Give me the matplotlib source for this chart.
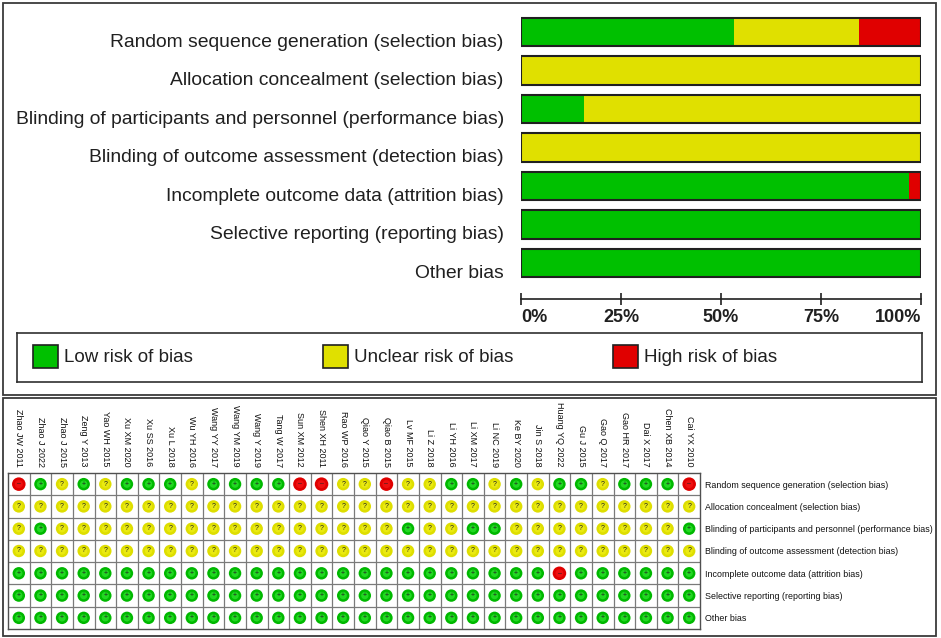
import matplotlib.pyplot as plt
from matplotlib.patches import Rectangle
from matplotlib.transforms import blended_transform_factory

W, H = 941, 638

domains = [
    'Random sequence generation (selection bias)',
    'Allocation concealment (selection bias)',
    'Blinding of participants and personnel (performance bias)',
    'Blinding of outcome assessment (detection bias)',
    'Incomplete outcome data (attrition bias)',
    'Selective reporting (reporting bias)',
    'Other bias',
]

studies = [
    'Zhao JW 2011', 'Zhao J 2022', 'Zhao J 2015', 'Zeng Y 2013', 'Yao WH 2015',
    'Xu XM 2020', 'Xu SS 2016', 'Xu L 2018', 'Wu YH 2016', 'Wang YY 2017',
    'Wang YM 2019', 'Wang Y 2019', 'Tang W 2017', 'Sun XM 2012', 'Shen XH 2011',
    'Rao WP 2016', 'Qiao Y 2015', 'Qiao B 2015', 'Lv MF 2015', 'Li Z 2018',
    'Li YH 2016', 'Li XM 2017', 'Li NC 2019', 'Ke BY 2020', 'Jin S 2018',
    'Huang YQ 2022', 'Gu J 2015', 'Gao Q 2017', 'Gao HR 2017', 'Dai X 2017',
    'Chen XB 2014', 'Cai YX 2010',
]

# L = low, U = unclear, H = high  (one string per domain, one letter per study)
judgements = [
    'HLULULLLULLLLHHUUHUULLULULLULLLH',
    'UUUUUUUUUUUUUUUUUUUUUUUUUUUUUUUU',
    'ULUUUUUUUUUUUUUUUULUULLUUUUUUUUL',
    'UUUUUUUUUUUUUUUUUUUUUUUUUUUUUUUU',
    'LLLLLLLLLLLLLLLLLLLLLLLLLHLLLLLL',
    'LLLLLLLLLLLLLLLLLLLLLLLLLLLLLLLL',
    'LLLLLLLLLLLLLLLLLLLLLLLLLLLLLLLL',
]

levels = ['L', 'U', 'H']
level_names = ['Low risk of bias', 'Unclear risk of bias', 'High risk of bias']
bar_colors = {'L': '#00c000', 'U': '#e0e000', 'H': '#e00000'}
dot_colors = {'L': '#00b800', 'U': '#dede00', 'H': '#e00000'}
inner_colors = {'L': '#22d822', 'U': '#eaea10', 'H': '#ee1010'}
symbols = {'L': '+', 'U': '?', 'H': '–'}

plt.rcParams['font.family'] = ['Liberation Sans', 'DejaVu Sans']


def rect(x0, y0, x1, y1):
    # pixel box -> figure fraction [left, bottom, width, height]
    return [x0 / W, 1 - y1 / H, (x1 - x0) / W, (y1 - y0) / H]


fig = plt.figure(figsize=(W / 100, H / 100), dpi=100)
fig.patch.set_facecolor('white')

# outer frames
for box in [(3, 3, 936, 395), (3, 398, 936, 636)]:
    l, b, w, h = rect(*box)
    fig.add_artist(Rectangle((l, b), w, h, transform=fig.transFigure,
                             fill=False, edgecolor='#3a3a3a', linewidth=1.3))

# ---- summary bar chart ----
ax1 = fig.add_axes(rect(521, 12, 921, 299))
n = len(studies)
ypos = list(range(len(domains)))
left = [0.0] * len(domains)
for lev in levels:
    frac = [row.count(lev) / n for row in judgements]
    ax1.barh(ypos, frac, left=left, height=0.75, color=bar_colors[lev],
             edgecolor='none')
    left = [a + b for a, b in zip(left, frac)]
ax1.barh(ypos, [1.0] * len(domains), height=0.75, fill=False,
         edgecolor='#202020', linewidth=1.5)

ax1.set_xlim(0, 1)
ax1.set_ylim(6.935, -0.52)
for s in ['top', 'left', 'right']:
    ax1.spines[s].set_visible(False)
ax1.spines['bottom'].set_color('#202020')
ax1.spines['bottom'].set_linewidth(1.2)
ax1.set_yticks([])
ax1.set_xticks([0, 0.25, 0.5, 0.75, 1.0])
ax1.set_xticklabels(['0%', '25%', '50%', '75%', '100%'], fontsize=13,
                    fontweight='bold', color='#202020')
ax1.tick_params(axis='x', direction='inout', length=9, width=1.2,
                color='#202020', pad=3)
tl = ax1.get_xticklabels()
tl[0].set_ha('left')
tl[-1].set_ha('right')

tr = blended_transform_factory(ax1.transAxes, ax1.transData)
for i, name in enumerate(domains):
    ax1.text(-0.043, i + 0.26, name, transform=tr, ha='right', va='center',
             fontsize=13.9, color='#202020')

# legend box
axl = fig.add_axes(rect(17, 333, 922, 382))
axl.set_xlim(0, 905)
axl.set_ylim(49, 0)
axl.set_xticks([])
axl.set_yticks([])
for s in axl.spines.values():
    s.set_color('#303030')
    s.set_linewidth(1.2)
for k, (lev, name) in enumerate(zip(levels, level_names)):
    x0 = 16 + k * 290
    axl.add_patch(Rectangle((x0, 12), 25, 23, facecolor=bar_colors[lev],
                            edgecolor='#202020', linewidth=1.2))
    axl.text(x0 + 31, 24, name, ha='left', va='center', fontsize=13.5,
             color='#202020')

# ---- per-study grid ----
ax2 = fig.add_axes(rect(8, 473, 700, 629))
ax2.set_xlim(0, n)
ax2.set_ylim(len(domains), 0)
for k in range(1, n):
    ax2.axvline(k, color='#7a7a7a', linewidth=0.9)
for k in range(1, len(domains)):
    ax2.axhline(k, color='#7a7a7a', linewidth=0.9)
for s in ax2.spines.values():
    s.set_color('#505050')
    s.set_linewidth(1.0)

for i, row in enumerate(judgements):
    for j, lev in enumerate(row):
        size = 95 if lev == 'H' else 80
        ax2.scatter(j + 0.5, i + 0.5, s=size, color=dot_colors[lev],
                    edgecolors='none', zorder=3)
        ax2.scatter(j + 0.5, i + 0.5, s=size * 0.35, color=inner_colors[lev],
                    edgecolors='none', zorder=3)
        ax2.text(j + 0.5, i + 0.5, symbols[lev], ha='center', va='center',
                 fontsize=5, color='#202020', zorder=4)

ax2.xaxis.tick_top()
ax2.set_xticks([j + 0.5 for j in range(n)])
ax2.set_xticklabels(studies, rotation=270, fontsize=6.5, color='#101010')
for t in ax2.get_xticklabels():
    t.set_ha('center')
    t.set_va('bottom')
ax2.yaxis.tick_right()
ax2.set_yticks([i + 0.5 for i in range(len(domains))])
ax2.set_yticklabels(domains, fontsize=6.4, color='#101010')
ax2.tick_params(length=0)
ax2.tick_params(axis='x', pad=4.5)
ax2.tick_params(axis='y', pad=3.5)

fig.savefig('out.png', dpi=100, facecolor='white')
